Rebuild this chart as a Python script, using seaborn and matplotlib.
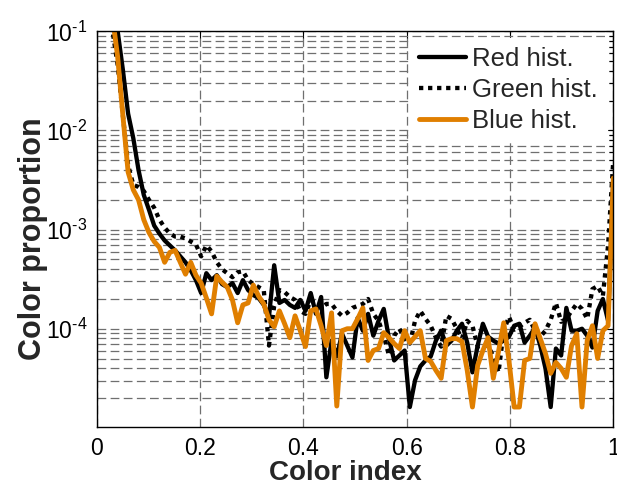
import numpy as np
import pandas as pd
import matplotlib
matplotlib.use("Agg")
import matplotlib.pyplot as plt
import seaborn as sns
from matplotlib.ticker import LogLocator, NullFormatter, FixedLocator, FuncFormatter

# ---- data (log10 of colour proportion) ----
color_index = np.linspace(0, 1, 100)

red_log10 = [-0.3, -0.4, -0.5, -0.7, -1.0, -1.39, -1.83, -2.08, -2.40, -2.65,
             -2.80, -2.96, -3.04, -3.11, -3.16, -3.21, -3.27, -3.33, -3.41, -3.51,
             -3.64, -3.44, -3.51, -3.46, -3.55, -3.58, -3.54, -3.64, -3.51, -3.61,
             -3.66, -3.69, -3.76, -3.88, -3.36, -3.74, -3.71, -3.76, -3.79, -3.71,
             -3.82, -3.64, -3.85, -3.68, -4.49, -4.12, -4.28, -4.05, -4.17, -4.29,
             -3.89, -4.02, -3.85, -4.07, -3.92, -3.80, -4.10, -4.32, -4.27, -4.22,
             -4.79, -4.52, -4.38, -4.32, -4.28, -4.12, -4.02, -4.17, -4.12, -4.02,
             -3.95, -4.14, -4.44, -4.17, -3.95, -4.08, -4.12, -4.15, -4.12, -4.08,
             -3.97, -3.95, -4.14, -4.07, -3.99, -4.17, -4.40, -4.79, -4.20, -4.27,
             -3.79, -4.02, -4.02, -4.00, -4.07, -4.19, -3.82, -3.70, -3.92, -2.50]

green_log10 = [-0.3, -0.5, -0.75, -0.99, -1.34, -1.85, -2.35, -2.55, -2.57, -2.61,
               -2.70, -2.78, -2.90, -2.98, -3.04, -3.07, -3.07, -3.09, -3.12, -3.15,
               -3.27, -3.16, -3.22, -3.33, -3.40, -3.44, -3.48, -3.43, -3.42, -3.51,
               -3.55, -3.58, -3.61, -4.17, -3.77, -3.61, -3.63, -3.68, -3.71, -3.82,
               -3.85, -3.71, -3.75, -3.79, -3.75, -3.75, -3.82, -3.87, -3.84, -3.79,
               -3.77, -3.75, -3.70, -3.85, -3.92, -4.07, -4.27, -4.07, -4.00, -4.10,
               -4.15, -3.92, -3.82, -3.90, -3.97, -4.09, -4.18, -3.87, -3.90, -4.00,
               -4.10, -3.92, -3.97, -4.18, -4.17, -4.17, -4.28, -4.44, -4.02, -3.88,
               -4.01, -3.98, -3.94, -3.91, -4.02, -4.08, -4.02, -3.91, -3.74, -3.93,
               -3.90, -3.82, -3.75, -3.80, -3.90, -3.60, -3.57, -3.67, -3.16, -2.30]

blue_log10 = [-0.3, -0.4, -0.55, -0.85, -1.26, -1.85, -2.42, -2.60, -2.70, -2.90,
              -3.03, -3.12, -3.18, -3.33, -3.23, -3.21, -3.33, -3.45, -3.33, -3.46,
              -3.54, -3.69, -3.85, -3.47, -3.53, -3.58, -3.71, -3.94, -3.76, -3.74,
              -3.56, -3.67, -3.75, -3.91, -3.98, -3.82, -3.95, -4.09, -3.87, -4.02,
              -4.18, -3.82, -3.80, -3.97, -4.17, -3.84, -4.78, -4.02, -4.00, -4.00,
              -3.90, -3.79, -4.32, -4.22, -4.20, -4.04, -4.09, -4.15, -4.20, -4.02,
              -4.14, -4.08, -4.02, -4.30, -4.33, -4.42, -4.50, -4.12, -4.10, -4.10,
              -4.13, -4.42, -4.79, -4.37, -4.22, -4.09, -4.50, -4.23, -3.94, -4.32,
              -4.79, -4.79, -4.32, -4.30, -3.95, -4.10, -4.25, -4.45, -4.34, -4.40,
              -4.49, -4.17, -4.05, -4.79, -4.12, -3.97, -4.30, -4.02, -3.97, -2.48]

series_names = ["Red hist.", "Green hist.", "Blue hist."]
x_ticks = [0, 0.2, 0.4, 0.6, 0.8, 1]
x_tick_labels = ["0", "0.2", "0.4", "0.6", "0.8", "1"]

df = pd.DataFrame({
    "x": color_index,
    "Red hist.": 10.0 ** np.array(red_log10),
    "Green hist.": 10.0 ** np.array(green_log10),
    "Blue hist.": 10.0 ** np.array(blue_log10),
})

# ---- styling ----
sns.set_theme(style="white")
plt.rcParams["font.family"] = ["Liberation Sans", "DejaVu Sans"]
plt.rcParams["mathtext.fontset"] = "custom"
plt.rcParams["mathtext.rm"] = "Liberation Sans"
plt.rcParams["mathtext.it"] = "Liberation Sans:italic"
plt.rcParams["mathtext.bf"] = "Liberation Sans:bold"

fig = plt.figure(figsize=(6.17, 4.87), dpi=100)
ax = fig.add_axes([0.1569, 0.1232, 0.994 - 0.1569, 0.9357 - 0.1232])

orange = "#E07F00"
styles = {
    "Red hist.": dict(color="black", linestyle="-", linewidth=3.1),
    "Green hist.": dict(color="black", linestyle=(0, (1, 1.1)), linewidth=3.1),
    "Blue hist.": dict(color=orange, linestyle="-", linewidth=3.5),
}
for name in series_names:
    sns.lineplot(data=df, x="x", y=name, ax=ax, label=name, **styles[name])

ax.set_yscale("log")
ax.set_xlim(0, 1)
ax.set_ylim(1.02e-5, 1e-1)
ax.xaxis.set_major_locator(FixedLocator(x_ticks))
ax.set_xticklabels(x_tick_labels)
ax.yaxis.set_major_locator(LogLocator(base=10, numticks=10))
ax.yaxis.set_minor_locator(LogLocator(base=10, subs=np.arange(2, 10), numticks=20))
ax.yaxis.set_minor_formatter(NullFormatter())


def pow10_label(v, pos):
    e = int(round(np.log10(v)))
    sign = "\u2010" if e < 0 else ""
    return r"$\mathdefault{10^{%s%d}}$" % (sign, abs(e))


ax.yaxis.set_major_formatter(FuncFormatter(pow10_label))

grid_kw = dict(color="#6f6f6f", linewidth=0.9, linestyle=(0, (7, 3.5)))
ax.grid(True, which="both", axis="y", **grid_kw)
ax.grid(True, which="major", axis="x", **grid_kw)
ax.set_axisbelow(True)

for s in ax.spines.values():
    s.set_visible(True)
    s.set_color("black")
    s.set_linewidth(1.0)

ax.tick_params(axis="both", which="both", direction="in", top=True, right=True,
               colors="black", labelsize=16.5, pad=7)
ax.tick_params(which="major", length=5, width=0.8)
ax.tick_params(which="minor", length=3, width=0.8)

ax.set_xlabel("Color index", fontsize=20, fontweight="bold")
ax.xaxis.set_label_coords(0.4805, -0.083)
ax.set_ylabel("Color proportion", fontsize=22, fontweight="bold")
ax.yaxis.set_label_coords(-0.094, 0.476)

leg = ax.legend(loc="upper right", bbox_to_anchor=(1.0, 1.0), fontsize=18.5,
                frameon=True, fancybox=False, framealpha=1.0, edgecolor="white",
                facecolor="white", handlelength=1.8, handletextpad=0.25,
                labelspacing=0.28, borderpad=0.35, borderaxespad=0.25)

fig.savefig("out.png", dpi=100)
